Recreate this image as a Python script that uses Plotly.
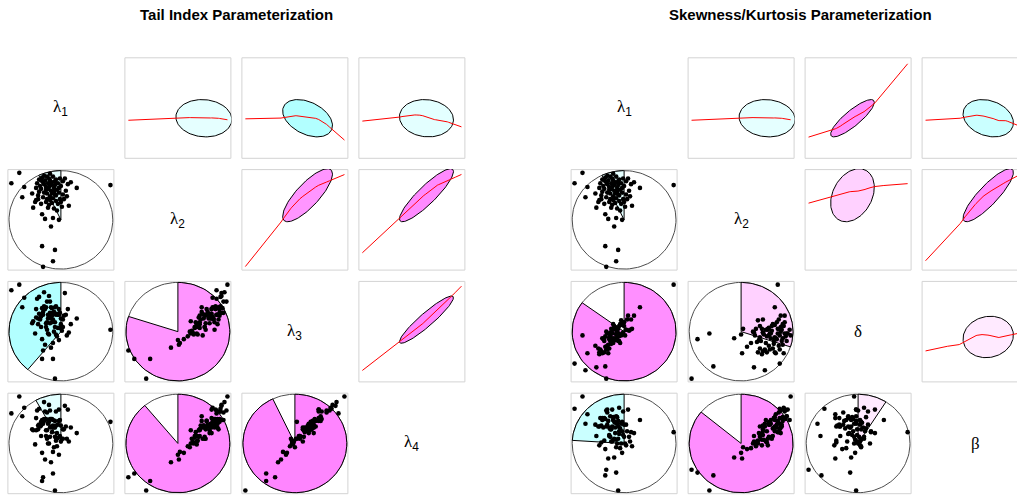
import numpy as np
import plotly.graph_objects as go

# ---- observations (scaled parameter estimates, one entry per fitted sample) ----
lam1 = [39, 54, 60, 66, 58, 24, 25, 40, 34, 31, 30, 33, 35, 37, 41, 44, 46, 48, 50, 52,
        28, 27, 32, 36, 39, 42, 45, 47, 49, 51, 43, 38, 35, 29, 26, 31, 34, 38, 42, 45,
        47, 40, 37, 43, 40, 33, 30, 25, 21, 55, 53, 56, 44, 41, 36, 46, 42, 48, 39, 44,
        49, 36, 32, 28, 57, 50, 38, 41, 35, 45, 39, 27, 52, 33, 43, 48, 37, 30,
        44, 0, 8, 100, 31, 32, 42, 11, 22, 13]
lam2 = [99, 94, 90, 84, 65, 69, 71, 43, 51, 56, 92, 88, 85, 83, 90, 87, 82, 79, 86, 77,
        80, 76, 74, 78, 75, 73, 70, 67, 72, 64, 62, 66, 69, 86, 89, 95, 92, 94, 96, 93,
        89, 87, 89, 84, 81, 79, 83, 84, 78, 81, 72, 75, 77, 68, 72, 60, 52, 50, 92, 91,
        94, 96, 90, 93, 88, 69, 85, 78, 82, 76, 71, 72, 91, 97, 80, 84, 63, 67,
        18, 89, 100, 87, 22, 0, 6, 74, 63, 85]
lam3 = [82, 91, 58, 64, 49, 48, 65, 33, 36, 42, 67, 77, 76, 64, 75, 60, 69, 68, 64, 55,
        69, 64, 71, 52, 69, 63, 47, 54, 54, 51, 50, 47, 55, 63, 85, 75, 74, 88, 70, 77,
        68, 76, 68, 69, 64, 74, 66, 74, 59, 68, 67, 46, 55, 60, 60, 45, 38, 41, 70, 76,
        70, 82, 68, 87, 74, 58, 66, 67, 59, 68, 59, 58, 63, 92, 71, 74, 48, 55,
        0, 94, 100, 52, 21, 30, 21, 76, 61, 86]
lam4 = [85, 90, 67, 61, 52, 49, 64, 30, 33, 40, 73, 76, 76, 71, 76, 67, 61, 74, 69, 55,
        70, 69, 74, 55, 67, 69, 53, 56, 58, 55, 46, 50, 58, 68, 85, 75, 84, 91, 75, 84,
        70, 76, 72, 67, 68, 74, 69, 77, 65, 68, 65, 55, 57, 62, 64, 47, 41, 38, 76, 74,
        75, 83, 71, 87, 86, 52, 73, 67, 64, 69, 57, 65, 65, 94, 68, 86, 50, 58,
        0, 82, 100, 73, 10, 14, 18, 79, 64, 88]
delta = [52, 67, 67, 76, 53, 32, 26, 43, 27, 34, 43, 35, 42, 37, 55, 48, 58, 48, 60, 52,
         43, 28, 31, 46, 38, 47, 40, 62, 49, 46, 50, 39, 44, 42, 31, 45, 36, 48, 48, 56,
         46, 53, 53, 44, 56, 31, 40, 28, 35, 51, 63, 52, 53, 41, 49, 38, 53, 47, 58, 40,
         60, 40, 50, 27, 63, 56, 43, 54, 32, 45, 53, 29, 52, 48, 48, 57, 49, 28,
         48, 16, 46, 100, 13, 0, 42, 9, 12, 27]
beta = [75, 86, 61, 75, 47, 68, 48, 35, 34, 44, 76, 83, 67, 66, 67, 74, 66, 73, 70, 48,
        75, 51, 68, 57, 75, 54, 60, 50, 59, 50, 50, 52, 59, 67, 77, 76, 74, 86, 79, 88,
        71, 73, 65, 78, 55, 70, 77, 68, 70, 57, 63, 52, 55, 61, 65, 45, 46, 40, 78, 68,
        84, 79, 85, 77, 62, 57, 68, 72, 58, 63, 54, 69, 70, 86, 71, 63, 52, 53,
        0, 87, 100, 62, 16, 22, 19, 71, 58, 81]

# ---- variables and labels of the two matrices ----
tail_vars = ["lam1", "lam2", "lam3", "lam4"]
skew_vars = ["lam1", "lam2", "delta", "beta"]
GREEK = "<span style='font-family:Liberation Serif, DejaVu Serif'>{}</span>"
tail_labels = [GREEK.format("λ") + "<sub>1</sub>", GREEK.format("λ") + "<sub>2</sub>",
               GREEK.format("λ") + "<sub>3</sub>", GREEK.format("λ") + "<sub>4</sub>"]
skew_labels = [GREEK.format("λ") + "<sub>1</sub>", GREEK.format("λ") + "<sub>2</sub>",
               GREEK.format("δ"), GREEK.format("β")]
titles = ["Tail Index Parameterization", "Skewness/Kurtosis Parameterization"]

# ---- pairwise correlations (pie fraction / ellipse shape) ----
tail_corr = {("lam1", "lam2"): -0.07, ("lam1", "lam3"): -0.39, ("lam1", "lam4"): -0.08,
             ("lam2", "lam3"): 0.80, ("lam2", "lam4"): 0.89, ("lam3", "lam4"): 0.93}
skew_corr = {("lam1", "lam2"): -0.07, ("lam1", "delta"): 0.85, ("lam1", "beta"): -0.24,
             ("lam2", "delta"): 0.30, ("lam2", "beta"): 0.86, ("delta", "beta"): 0.09}

data = {"lam1": np.array(lam1, float), "lam2": np.array(lam2, float),
        "lam3": np.array(lam3, float), "lam4": np.array(lam4, float),
        "delta": np.array(delta, float), "beta": np.array(beta, float)}

# ---- page geometry (pixels) ----
W, H = 1017, 497
PANEL_W, PANEL_H = 107.0, 101.5
COL_STEP, ROW_STEP = 117.0, 111.8
TOP0 = 57.3
LEFT0 = [7.4, 570.6]
TITLE_X = [236.5, 800.0]


def ext_range(v):
    lo, hi = v.min(), v.max()
    pad = 0.04 * (hi - lo)
    return lo - pad, hi + pad


def corr_color(r):
    if r < 0:
        v = int(round(240 - 160 * abs(r)))
        return f"rgb({v},255,255)"
    v = int(round(245 - 120 * abs(r)))
    return f"rgb(255,{v},255)"


def lowess(x, y, f=2 / 3, iters=3):
    order = np.argsort(x, kind="mergesort")
    x = x[order]
    y = y[order]
    n = len(x)
    r = int(np.ceil(f * n))
    yest = np.zeros(n)
    rob = np.ones(n)
    for _ in range(iters + 1):
        for i in range(n):
            dist = np.abs(x - x[i])
            h = max(np.sort(dist)[r - 1], 1e-9)
            u = np.clip(dist / h, 0, 1)
            w = (1 - u ** 3) ** 3 * rob
            sw = w.sum()
            xm = (w * x).sum() / sw
            ym = (w * y).sum() / sw
            sxx = (w * (x - xm) ** 2).sum()
            b = (w * (x - xm) * (y - ym)).sum() / sxx if sxx > 1e-12 else 0.0
            yest[i] = ym + b * (x[i] - xm)
        res = y - yest
        s = np.median(np.abs(res))
        if s == 0:
            break
        u = np.clip(res / (6 * s), -1, 1)
        rob = (1 - u ** 2) ** 2
    return x, yest


def get_corr(table, a, b):
    return table[(a, b)] if (a, b) in table else table[(b, a)]


fig = go.Figure()
layout = dict(width=W, height=H, margin=dict(l=0, r=0, t=0, b=0), autosize=False,
              paper_bgcolor="white", plot_bgcolor="rgba(0,0,0,0)", showlegend=False)
shapes, annotations = [], []
k = 0

for m, (vars_, labels, ctab) in enumerate([(tail_vars, tail_labels, tail_corr),
                                             (skew_vars, skew_labels, skew_corr)]):
    annotations.append(dict(x=TITLE_X[m] / W, y=1 - 15 / H, xref="paper", yref="paper",
                            text=f"<b>{titles[m]}</b>", showarrow=False,
                            xanchor="center", yanchor="middle",
                            font=dict(family="Liberation Sans, Arial", size=15, color="black")))
    for i in range(4):
        for j in range(4):
            px0 = LEFT0[m] + j * COL_STEP
            py0 = TOP0 + i * ROW_STEP
            if i == j:
                annotations.append(dict(
                    x=(px0 + PANEL_W / 2) / W, y=1 - (py0 + PANEL_H / 2) / H,
                    xref="paper", yref="paper", showarrow=False,
                    text=labels[i], xanchor="center", yanchor="middle",
                    font=dict(family="Liberation Sans, Arial", size=17, color="black")))
                continue
            k += 1
            xv, yv = data[vars_[j]], data[vars_[i]]
            xlo, xhi = ext_range(xv)
            ylo, yhi = ext_range(yv)
            r = get_corr(ctab, vars_[i], vars_[j])
            fill = corr_color(r)

            px1 = px0 + PANEL_W
            xr = [xlo, xhi]
            dom_x1 = px1 / W
            if px1 > W:
                frac = (W - px0) / PANEL_W
                xr = [xlo, xlo + frac * (xhi - xlo)]
                dom_x1 = 1.0
            xa = "x" if k == 1 else f"x{k}"
            ya = "y" if k == 1 else f"y{k}"
            layout["xaxis" if k == 1 else f"xaxis{k}"] = dict(
                domain=[px0 / W, dom_x1], range=xr, visible=False, fixedrange=True, anchor=ya)
            layout["yaxis" if k == 1 else f"yaxis{k}"] = dict(
                domain=[1 - (py0 + PANEL_H) / H, 1 - py0 / H], range=[ylo, yhi],
                visible=False, fixedrange=True, anchor=xa)

            shapes.append(dict(type="rect", xref="paper", yref="paper",
                               x0=(px0 + 0.5) / W, x1=(px1 - 0.5) / W,
                               y0=1 - (py0 + PANEL_H - 0.5) / H, y1=1 - (py0 + 0.5) / H,
                               line=dict(color="#d3d3d3", width=1), layer="below"))

            if i > j:
                # lower triangle: pie of the correlation with the scatter on top
                cx, cy = (xlo + xhi) / 2, (ylo + yhi) / 2
                rx, ry = 0.97 * (xhi - xlo) / 2, 0.97 * (yhi - ylo) / 2
                a = np.linspace(0, 2 * np.pi, 121)
                fig.add_trace(go.Scatter(x=cx + rx * np.cos(a), y=cy + ry * np.sin(a),
                                         mode="lines", line=dict(color="#4d4d4d", width=1),
                                         xaxis=xa, yaxis=ya, hoverinfo="skip"))
                ang = np.linspace(np.pi / 2, np.pi / 2 - 2 * np.pi * r, 80)
                wx = np.concatenate([[cx], cx + rx * np.cos(ang), [cx]])
                wy = np.concatenate([[cy], cy + ry * np.sin(ang), [cy]])
                fig.add_trace(go.Scatter(x=wx, y=wy, mode="lines", fill="toself",
                                         fillcolor=fill, line=dict(color="black", width=1),
                                         xaxis=xa, yaxis=ya, hoverinfo="skip"))
                fig.add_trace(go.Scatter(x=xv, y=yv, mode="markers",
                                         marker=dict(color="black", size=4.6),
                                         xaxis=xa, yaxis=ya, hoverinfo="skip"))
            else:
                # upper triangle: 68% data ellipse plus lowess smooth
                t = np.sqrt(-2 * np.log(1 - 0.68))
                d = np.arccos(r)
                a = np.linspace(0, 2 * np.pi, 120)
                ex = xv.mean() + t * xv.std(ddof=1) * np.cos(a + d / 2)
                ey = yv.mean() + t * yv.std(ddof=1) * np.cos(a - d / 2)
                fig.add_trace(go.Scatter(x=ex, y=ey, mode="lines", fill="toself",
                                         fillcolor=fill, line=dict(color="black", width=1),
                                         xaxis=xa, yaxis=ya, hoverinfo="skip"))
                sx, sy = lowess(xv, yv)
                fig.add_trace(go.Scatter(x=sx, y=sy, mode="lines",
                                         line=dict(color="red", width=1),
                                         xaxis=xa, yaxis=ya, hoverinfo="skip"))

layout["shapes"] = shapes
layout["annotations"] = annotations
fig.update_layout(**layout)
fig.write_html("out.html")
